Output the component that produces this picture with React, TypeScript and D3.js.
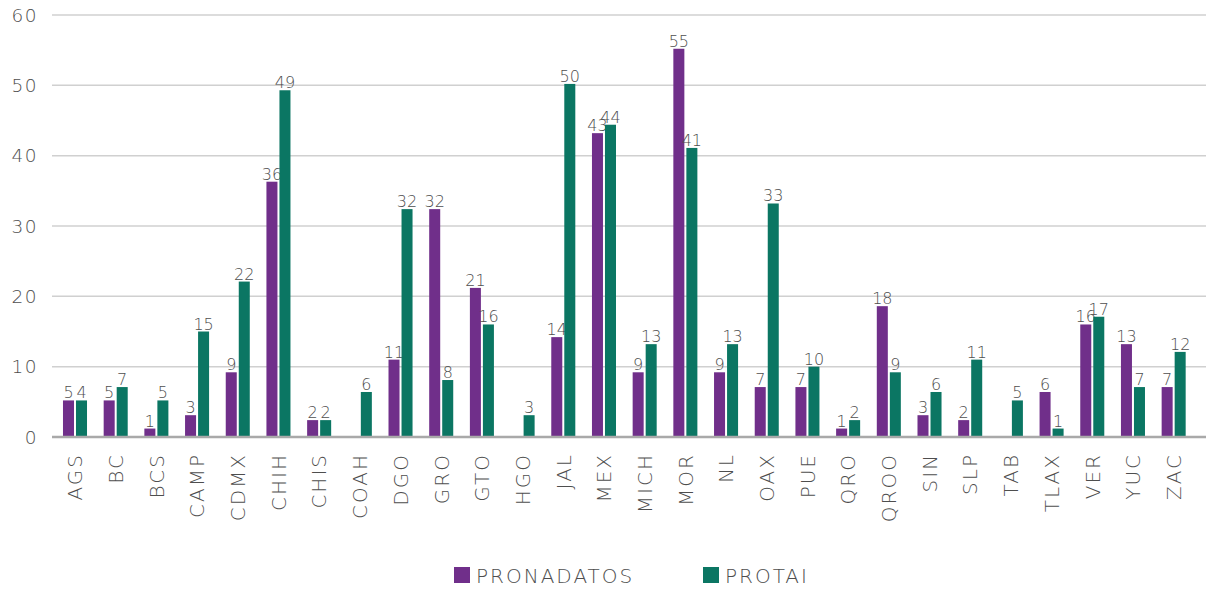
import * as React from 'react';
import * as d3 from 'd3';

// states (x axis)
const states = [
  'AGS', 'BC', 'BCS', 'CAMP', 'CDMX', 'CHIH', 'CHIS', 'COAH', 'DGO', 'GRO',
  'GTO', 'HGO', 'JAL', 'MEX', 'MICH', 'MOR', 'NL', 'OAX', 'PUE', 'QRO',
  'QROO', 'SIN', 'SLP', 'TAB', 'TLAX', 'VER', 'YUC', 'ZAC',
];

// bar heights
const pronadatos = [
  5.2, 5.2, 1.2, 3.1, 9.2, 36.3, 2.4, 0, 11.0, 32.4,
  21.2, 0, 14.2, 43.2, 9.2, 55.2, 9.2, 7.1, 7.1, 1.2,
  18.6, 3.1, 2.4, 0, 6.4, 16.0, 13.2, 7.1,
];
const protai = [
  5.2, 7.1, 5.2, 15.0, 22.1, 49.3, 2.4, 6.4, 32.4, 8.1,
  16.0, 3.1, 50.2, 44.4, 13.2, 41.1, 13.2, 33.2, 10.0, 2.4,
  9.2, 6.4, 11.0, 5.2, 1.2, 17.1, 7.1, 12.1,
];

// printed data labels
const pronadatosLabels = [
  5, 5, 1, 3, 9, 36, 2, null, 11, 32,
  21, null, 14, 43, 9, 55, 9, 7, 7, 1,
  18, 3, 2, null, 6, 16, 13, 7,
];
const protaiLabels = [
  4, 7, 5, 15, 22, 49, 2, 6, 32, 8,
  16, 3, 50, 44, 13, 41, 13, 33, 10, 2,
  9, 6, 11, 5, 1, 17, 7, 12,
];

const seriesNames = ['PRONADATOS', 'PROTAI'];
const seriesColors = ['#702f8a', '#0b7663'];
const yTicks = [0, 10, 20, 30, 40, 50, 60];

const FONT = '"DejaVu Sans", sans-serif';
const TEXT = '#4e4e4e';

export default function App() {
  const width = 1206;
  const height = 589;

  const x = d3.scaleBand().domain(states).range([54.65, 1194]).padding(0);
  const x1 = d3
    .scaleBand()
    .domain(seriesNames)
    .range([0, x.bandwidth()])
    .paddingInner(0.154)
    .paddingOuter(0.64);
  const y = d3.scaleLinear().domain([0, 60]).range([437, 15]);

  const series = [
    { name: seriesNames[0], values: pronadatos, labels: pronadatosLabels, color: seriesColors[0] },
    { name: seriesNames[1], values: protai, labels: protaiLabels, color: seriesColors[1] },
  ];

  return (
    <svg
      width={width}
      height={height}
      style={{ position: 'absolute', left: 0, top: 0, background: '#fff' }}
      fontFamily={FONT}
      fontWeight={200}
    >
      {/* grid */}
      {yTicks.filter((t) => t > 0).map((t) => (
        <line key={t} x1={52} x2={width} y1={y(t)} y2={y(t)} stroke="#d0d0d0" strokeWidth={1.5} />
      ))}
      {yTicks.map((t) => (
        <text
          key={'yl' + t}
          x={38}
          y={y(t) + 6.5}
          textAnchor="end"
          fontSize={18.5}
          letterSpacing={1.5}
          fill={TEXT}
        >
          {t}
        </text>
      ))}

      {/* bars */}
      {series.map((s) => (
        <g key={s.name}>
          {states.map((st, i) =>
            s.values[i] > 0 ? (
              <rect
                key={st}
                x={(x(st) as number) + (x1(s.name) as number)}
                y={y(s.values[i])}
                width={x1.bandwidth()}
                height={y(0) - y(s.values[i])}
                fill={s.color}
              />
            ) : null
          )}
          {states.map((st, i) =>
            s.labels[i] != null ? (
              <text
                key={'l' + st}
                x={(x(st) as number) + (x1(s.name) as number) + x1.bandwidth() / 2}
                y={y(s.values[i]) - 2}
                textAnchor="middle"
                fontSize={16}
                fill={TEXT}
              >
                {s.labels[i]}
              </text>
            ) : null
          )}
        </g>
      ))}

      {/* baseline */}
      <line x1={52} x2={width} y1={y(0)} y2={y(0)} stroke="#a9a9a9" strokeWidth={2.5} />

      {/* x labels */}
      {states.map((st) => (
        <text
          key={'x' + st}
          transform={`translate(${(x(st) as number) + x.bandwidth() / 2 + 7.3}, 453) rotate(-90)`}
          textAnchor="end"
          fontSize={20}
          letterSpacing={2}
          fill={TEXT}
        >
          {st}
        </text>
      ))}

      {/* legend */}
      {series.map((s, i) => {
        const lx = i === 0 ? 454 : 703;
        return (
          <g key={'lg' + s.name}>
            <rect x={lx} y={567} width={16} height={16} fill={s.color} />
            <text x={lx + 22} y={582.5} fontSize={20} letterSpacing={2} fill={TEXT}>
              {s.name}
            </text>
          </g>
        );
      })}
    </svg>
  );
}
